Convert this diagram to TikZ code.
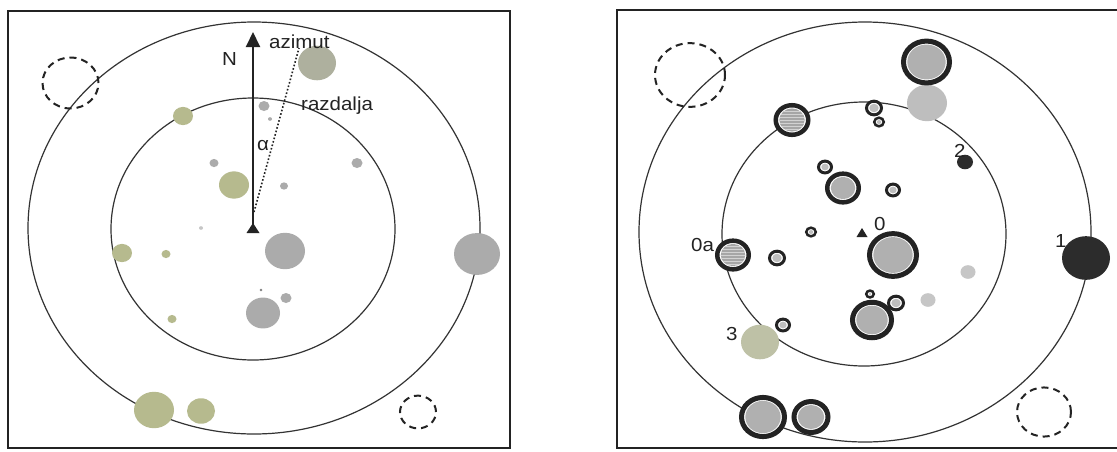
\documentclass[tikz,border=0pt]{standalone}
\usepackage{fontspec}
\usepackage{graphicx}
\setmainfont{Liberation Sans}
\usetikzlibrary{shapes.geometric,arrows.meta,patterns}
\definecolor{ink}{HTML}{232323}
\definecolor{orb}{HTML}{333333}
\definecolor{gn}{HTML}{B6BA8E}
\definecolor{gg}{HTML}{AEB09E}
\definecolor{gr}{HTML}{ABABAB}
\definecolor{lg}{HTML}{C6C6C6}
\definecolor{lt}{HTML}{BEBEBE}
\definecolor{dk}{HTML}{2C2C2C}
\definecolor{g3}{HTML}{BEC1A6}
\definecolor{rg}{HTML}{B0B0B0}
\def\yk{0.91}
\newcommand\sqz[1]{\scalebox{1}[0.92]{#1}}
% filled blob: name, x, y, r, colour
\newcommand\blob[5]{\node[ellipse,inner sep=0pt,fill=#5,minimum width={2*#4*1pt},minimum height={2*\yk*#4*1pt}] (#1) at (#2,#3) {};}
% ringed blob: name, x, y, outer r, ring width, fill style
\newcommand\ring[6]{%
  \node[ellipse,inner sep=0pt,draw=ink,fill=white,line width=#5pt,minimum width={(2*#4-#5)*1pt},minimum height={\yk*(2*#4-#5)*1pt}] (#1) at (#2,#3) {};
  \node[ellipse,inner sep=0pt,#6,minimum width={(2*#4-2*#5-2.6)*1pt},minimum height={\yk*(2*#4-2*#5-2.6)*1pt}] (#1i) at (#1) {};}
% dashed circle: name, x, y, r
\newcommand\dcirc[4]{\node[ellipse,inner sep=0pt,draw=ink,line width=2pt,dash pattern=on 7pt off 5pt,minimum width={2*#4*1pt},minimum height={2*\yk*#4*1pt}] (#1) at (#2,#3) {};}
\tikzset{
  frame/.style={draw=ink,line width=2pt},
  orbit/.style={draw=orb,line width=1.2pt},
  lbl/.style={inner sep=0pt,text=ink,font=\fontsize{20.5}{20.5}\selectfont},
  hatch/.style={preaction={fill=gray!70},pattern=horizontal lines,pattern color=gray!35},
}
\begin{document}
\begin{tikzpicture}[x=1pt,y=-1pt]
\useasboundingbox (0,0) rectangle (1117,451);
\fill[white] (0,0) rectangle (1117,451);

%% ---------------- left panel ----------------
\draw[frame] (8,11) rectangle (510,448);
\draw[orbit] (254,228) ellipse [x radius=226,y radius=206];
\draw[orbit] (253,229) ellipse [x radius=142,y radius=131];
\dcirc{DL1}{70.5}{83}{28}
\dcirc{DL2}{418}{412}{18}

\blob{L1}{317}{63}{19}{gg}
\blob{L2}{264}{106}{5.5}{gr}
\blob{L3}{270}{119}{2}{gr}
\blob{L4}{183}{116}{10}{gn}
\blob{L5}{214}{163}{4.5}{gr}
\blob{L6}{357}{163}{5.5}{gr}
\blob{L7}{234}{185}{15}{gn}
\blob{L8}{284}{186}{4}{gr}
\blob{L9}{201}{228}{2}{lg}
\blob{L10}{122}{253}{10}{gn}
\blob{L11}{166}{254}{4.5}{gn}
\blob{L12}{285}{251}{20}{gr}
\blob{L13}{477}{254}{23}{gr}
\blob{L14}{261}{290}{1.5}{gray}
\blob{L15}{286}{298}{5.5}{gr}
\blob{L16}{263}{313}{17}{gr}
\blob{L17}{172}{319}{4.5}{gn}
\blob{L18}{154}{410}{20}{gn}
\blob{L19}{201}{411}{14}{gn}

\coordinate (c0) at (253,229);
\coordinate (ntip) at (253,32);
\coordinate (dA) at (254,212);
\coordinate (dB) at (299,48);
\fill[ink] (c0) ++(-6.5,4) -- ++(13,0) -- ++(-6.5,-10) -- cycle;
\draw[ink,line width=2pt,-{Triangle[width=14pt,length=15pt]}] (253,224) -- (ntip);
\draw[ink,line width=1.6pt,dotted] (dA) -- (dB);

\node[lbl,anchor=base west] (tN) at (222,65) {\sqz{N}};
\node[lbl,anchor=base west] (taz) at (269,48) {\sqz{azimut}};
\node[lbl,anchor=base west] (trz) at (301,110) {\sqz{razdalja}};
\node[lbl,anchor=base west] (tal) at (257,150) {\sqz{α}};

%% ---------------- right panel ----------------
\draw[frame] (1117,10) -- (617,10) -- (617,448) -- (1117,448);
\draw[orbit] (865,232) ellipse [x radius=226,y radius=210];
\draw[orbit] (864,234) ellipse [x radius=142,y radius=132];
\dcirc{DR1}{690}{75}{35}
\dcirc{DR2}{1044}{412}{27}

\blob{B2}{927}{103}{20}{lt}
\ring{R1}{926.5}{62}{25.5}{5}{fill=rg}
\ring{R3}{792}{120}{18.5}{4.5}{hatch}
\ring{R4}{874}{108}{9}{3}{fill=lt}
\ring{R5}{879}{122}{6}{2.5}{fill=lt}
\blob{B6}{965}{162}{8}{dk}
\ring{R7}{825}{167}{8}{3}{fill=lt}
\ring{R8}{843}{188}{18}{4.5}{fill=rg}
\ring{R9}{893}{190}{8}{3}{fill=lt}
\ring{R10}{811}{232}{6}{2.5}{fill=lt}
\ring{R11}{893}{255}{26}{5}{fill=rg}
\ring{R12}{733}{255}{18}{4.5}{hatch}
\ring{R13}{777}{258}{9}{3}{fill=lt}
\blob{B20}{1086}{258}{24}{dk}
\blob{B21}{968}{272}{7.5}{lg}
\blob{B22}{928}{300}{7.5}{lg}
\ring{R14}{870}{294}{5}{2.5}{fill=lt}
\ring{R15}{896}{303}{9}{3}{fill=lt}
\ring{R16}{872}{320}{22}{5}{fill=rg}
\ring{R17}{783}{325}{8}{3}{fill=lt}
\blob{B23}{760}{342}{19}{g3}
\ring{R18}{763}{417}{24}{5}{fill=rg}
\ring{R19}{811}{417}{19.5}{5}{fill=rg}

\coordinate (c1) at (862,233);
\fill[ink] (c1) ++(-5.5,4) -- ++(11,0) -- ++(-5.5,-9) -- cycle;

\node[lbl,anchor=base west] (t0) at (874,230) {\sqz{0}};
\node[lbl,anchor=base west] (t2) at (954,157) {\sqz{2}};
\node[lbl,anchor=base west] (t0a) at (691,251) {\sqz{0a}};
\node[lbl,anchor=base west] (t1) at (1055,247) {\sqz{1}};
\node[lbl,anchor=base west] (t3) at (726,340) {\sqz{3}};
\end{tikzpicture}
\end{document}
